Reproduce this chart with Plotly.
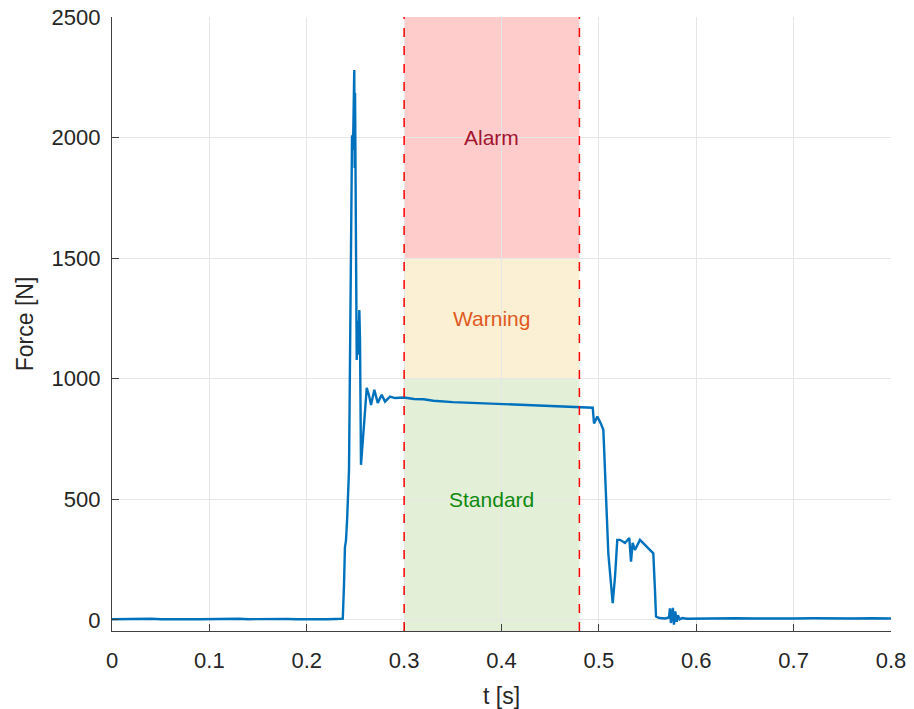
import plotly.graph_objects as go

# Measured force signal
t_s = [0.000, 0.010, 0.020, 0.030, 0.040, 0.050, 0.060, 0.070, 0.080, 0.090,
       0.100, 0.110, 0.120, 0.130, 0.140, 0.150, 0.160, 0.170, 0.180, 0.190,
       0.200, 0.210, 0.220, 0.230, 0.2370, 0.2383, 0.2392, 0.2403, 0.2415, 0.2434,
       0.2465, 0.2472, 0.2478, 0.2488, 0.2492, 0.2496, 0.2513, 0.2522, 0.2530, 0.2540,
       0.2547, 0.2557, 0.2590, 0.2616, 0.2640, 0.2660, 0.2694, 0.2729, 0.2770, 0.2804,
       0.2855, 0.2906, 0.3000, 0.3100, 0.3200, 0.3300, 0.3500, 0.3700, 0.3900, 0.4100,
       0.4300, 0.4500, 0.4700, 0.4900, 0.4937, 0.4950, 0.4984, 0.5019, 0.5046, 0.5097,
       0.5107, 0.5142, 0.5166, 0.5189, 0.5217, 0.5268, 0.5312, 0.5330, 0.5347, 0.5370,
       0.5422, 0.5491, 0.5559, 0.5576, 0.5587, 0.5620, 0.5680, 0.5720, 0.5730, 0.5740,
       0.5760, 0.5771, 0.5785, 0.5800, 0.5812, 0.5830, 0.5860, 0.5900, 0.6000, 0.6200,
       0.6400, 0.6600, 0.6800, 0.7000, 0.7200, 0.7400, 0.7600, 0.7800, 0.8000]
force_n = [3, 4, 2, 3, 5, 3, 2, 4, 3, 3,
           4, 2, 3, 5, 3, 4, 2, 3, 4, 3,
           2, 4, 3, 4, 5, 150, 300, 330, 420, 622,
           2010, 1950, 2030, 2280, 1874, 2185, 1078, 1240, 1100, 1285,
           1161, 643, 820, 962, 930, 891, 954, 900, 933, 905,
           926, 920, 922, 916, 915, 909, 903, 900, 895, 891,
           888, 886, 883, 881, 880, 815, 843, 815, 788, 276,
           235, 69, 180, 332, 332, 319, 340, 242, 319, 290,
           332, 304, 276, 124, 14, 8, 6, 10, 48, -13,
           50, -20, 35, -8, 20, 2, 8, 5, 6, 5,
           7, 6, 5, 6, 7, 5, 6, 7, 6]

# Threshold zones over the evaluation window
window = [0.30, 0.48]
zone_names = ["Standard", "Warning", "Alarm"]
zone_low = [-46, 1000, 1500]
zone_high = [1000, 1500, 2500]
zone_fill = ["#e3efd7", "#fbefd4", "#ffcccc"]
zone_text = ["#0f8a0f", "#e05a22", "#a2142f"]
zone_label_y = [500, 1250, 2000]

x_ticks = [0, 0.1, 0.2, 0.3, 0.4, 0.5, 0.6, 0.7, 0.8]
x_tick_labels = ["0", "0.1", "0.2", "0.3", "0.4", "0.5", "0.6", "0.7", "0.8"]
y_ticks = [0, 500, 1000, 1500, 2000, 2500]

FONT = "Liberation Sans, Arial, sans-serif"

fig = go.Figure()

shapes = []
for lo, hi, col in zip(zone_low, zone_high, zone_fill):
    shapes.append(dict(type="rect", xref="x", yref="y", x0=window[0], x1=window[1],
                       y0=lo, y1=hi, fillcolor=col, line=dict(width=0), layer="below"))
for xv in window:
    shapes.append(dict(type="line", xref="x", yref="paper", x0=xv, x1=xv, y0=0, y1=1,
                       line=dict(color="#ff0000", width=1.5, dash="dash"), layer="above"))

annotations = []
for name, ty, col in zip(zone_names, zone_label_y, zone_text):
    annotations.append(dict(x=sum(window) / 2, y=ty, xref="x", yref="y", text=name,
                            showarrow=False, font=dict(size=21, color=col, family=FONT)))

fig.add_trace(go.Scatter(x=t_s, y=force_n, mode="lines",
                         line=dict(color="#0072bd", width=2.4), showlegend=False))

fig.update_layout(
    width=914, height=709,
    margin=dict(l=112, r=23, t=17, b=78),
    paper_bgcolor="white", plot_bgcolor="white",
    shapes=shapes, annotations=annotations,
    font=dict(family=FONT, color="#262626"),
    xaxis=dict(range=[0, 0.8], tickvals=x_ticks, ticktext=x_tick_labels,
               automargin=False,
               showgrid=True, gridcolor="#e6e6e6", gridwidth=1,
               showline=True, linecolor="#404040", linewidth=1.2,
               ticks="inside", ticklen=7, tickcolor="#404040",
               ticklabelstandoff=9,
               tickfont=dict(size=22, color="#262626"),
               title=dict(text="t [s]", font=dict(size=23, color="#262626"), standoff=19),
               zeroline=False),
    yaxis=dict(range=[-46, 2500], tickvals=y_ticks,
               automargin=False,
               showgrid=True, gridcolor="#e6e6e6", gridwidth=1,
               showline=True, linecolor="#404040", linewidth=1.2,
               ticks="inside", ticklen=7, tickcolor="#404040",
               ticklabelstandoff=6,
               tickfont=dict(size=22, color="#262626"),
               title=dict(text="Force [N]", font=dict(size=23, color="#262626"), standoff=11),
               zeroline=False),
)

fig.write_html("out.html")
